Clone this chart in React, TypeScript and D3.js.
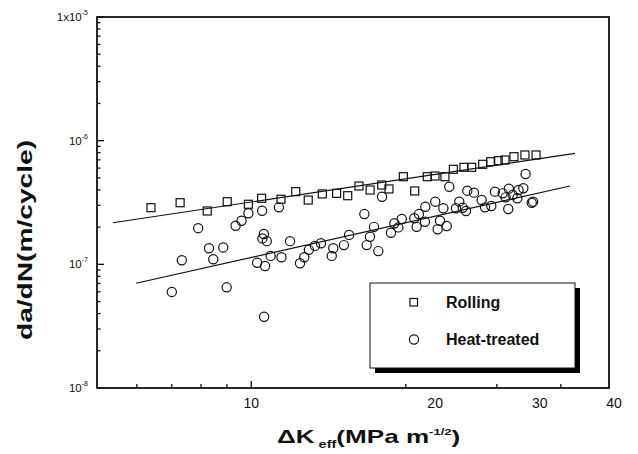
import React from 'react';
import * as d3 from 'd3';

// delta K_eff (MPa m^1/2) and da/dN (m/cycle)
const rollingK = [6.78, 7.59, 8.43, 9.11, 9.89, 10.41, 11.22, 11.88, 12.47, 13.17, 13.92, 14.53, 15.18, 15.85, 16.58, 17.05,
  18.03, 18.84, 19.78, 20.38, 21.18, 21.88, 22.8, 23.49, 24.52, 25.29, 26.04, 26.73, 27.68, 28.88, 30.15];
const rollingRate = [2.87e-7, 3.15e-7, 2.7e-7, 3.21e-7, 3.06e-7, 3.42e-7, 3.36e-7, 3.87e-7, 3.31e-7, 3.71e-7, 3.75e-7, 3.59e-7,
  4.3e-7, 3.99e-7, 4.38e-7, 4.07e-7, 5.11e-7, 3.92e-7, 5.11e-7, 5.18e-7, 5.11e-7, 5.87e-7, 6.09e-7, 6.09e-7, 6.44e-7, 6.76e-7,
  6.89e-7, 6.98e-7, 7.42e-7, 7.66e-7, 7.66e-7];

const heatK = [8.14, 9.41, 9.63, 9.89, 10.43, 10.5, 10.44, 10.62, 8.49, 8.97, 7.64, 8.63, 10.78, 10.23, 10.55, 7.35, 9.09, 10.51,
  11.13, 16.6, 15.5, 11.62, 11.24, 12.08, 12.28, 12.5, 12.8, 13.1, 13.74, 13.66, 14.32, 14.61, 15.64, 15.84, 16.09, 16.36, 17.18,
  17.41, 17.68, 17.92, 18.81, 18.98, 19.15, 19.63, 19.6, 20.4, 20.59, 21.54, 28.95, 21.05, 22.39, 22.11, 22.69, 22.98, 23.1, 23.7,
  24.42, 24.74, 25.35, 25.71, 26.49, 27.13, 26.79, 27.54, 28.04, 28.17, 28.7, 27.07, 29.65, 29.81, 20.78, 21.33];
const heatRate = [1.96e-7, 2.05e-7, 2.25e-7, 2.59e-7, 2.71e-7, 1.76e-7, 1.62e-7, 1.54e-7, 1.35e-7, 1.37e-7, 1.08e-7, 1.1e-7,
  1.17e-7, 1.03e-7, 9.7e-8, 5.98e-8, 6.52e-8, 3.77e-8, 2.89e-7, 3.52e-7, 2.55e-7, 1.54e-7, 1.14e-7, 1.02e-7, 1.14e-7, 1.31e-7,
  1.41e-7, 1.48e-7, 1.35e-7, 1.17e-7, 1.43e-7, 1.73e-7, 1.43e-7, 1.67e-7, 2.01e-7, 1.28e-7, 1.8e-7, 2.15e-7, 1.99e-7, 2.33e-7,
  2.36e-7, 2.01e-7, 2.55e-7, 2.92e-7, 2.21e-7, 3.21e-7, 1.92e-7, 4.24e-7, 5.38e-7, 2.84e-7, 3.21e-7, 2.84e-7, 2.87e-7, 2.7e-7,
  3.94e-7, 3.8e-7, 3.31e-7, 2.89e-7, 2.96e-7, 3.87e-7, 3.75e-7, 4.09e-7, 3.48e-7, 3.64e-7, 3.42e-7, 3.99e-7, 4.12e-7, 2.8e-7,
  3.15e-7, 3.21e-7, 2.25e-7, 2.04e-7];

// fitted lines (end points)
const rollingFitK = [5.85, 35.06];
const rollingFitRate = [2.17e-7, 7.9e-7];
const heatFitK = [6.4, 34.4];
const heatFitRate = [7.03e-8, 4.3e-7];

const xTickLabels = [10, 20, 30, 40];
const xMajorTicks = [10];
const xMinorTicks = [6.42, 7.35, 8.23, 9.1, 18.2, 25.9, 33.2];
const yExponents = [-5, -6, -7, -8];
const seriesNames = ['Rolling', 'Heat-treated'];

const W = 638, H = 454;
const left = 97, right = 609, top = 17, bottom = 388;
const font = '"Liberation Sans", Arial, sans-serif';

export default function App() {
  const x = d3.scaleLog().domain([5.5, 40]).range([left, right]);
  const y = d3.scaleLog().domain([1e-8, 1e-5]).range([bottom, top]);

  const line = d3.line<[number, number]>().x(d => x(d[0])).y(d => y(d[1]));
  const rollingFit = rollingFitK.map((k, i) => [k, rollingFitRate[i]] as [number, number]);
  const heatFit = heatFitK.map((k, i) => [k, heatFitRate[i]] as [number, number]);

  const yTicks = y.ticks();
  const isMajor = (v: number) => Math.abs(Math.log10(v) - Math.round(Math.log10(v))) < 1e-6;

  const lx = 370, ly = 283, lw = 205, lh = 85;

  return (
    <svg width={W} height={H} style={{ position: 'absolute', left: 0, top: 0, background: '#fff' }} fontFamily={font}>
      <rect x={0} y={0} width={W} height={H} fill="#fff" />

      {/* y ticks, inward */}
      <g stroke="#111" strokeWidth={1.3}>
        {yTicks.map((v, i) => (
          <line key={i} x1={left} x2={left + (isMajor(v) ? 7 : 3.5)} y1={y(v)} y2={y(v)} />
        ))}
        {xMajorTicks.map((v, i) => (
          <line key={'M' + i} x1={x(v)} x2={x(v)} y1={bottom} y2={bottom - 7} />
        ))}
        {xMinorTicks.map((v, i) => (
          <line key={'m' + i} x1={x(v)} x2={x(v)} y1={bottom} y2={bottom - 4} />
        ))}
      </g>

      {/* y tick labels */}
      <g fontSize={11.5} fill="#111" textAnchor="end">
        {yExponents.map(e => (
          <text key={e} x={left - 9} y={y(Math.pow(10, e)) + 4}>
            {e === -5 ? '1x10' : '10'}
            <tspan fontSize={7} dy={-6}>{String(e)}</tspan>
          </text>
        ))}
      </g>

      {/* x tick labels */}
      <g fontSize={14} fill="#111" textAnchor="middle">
        {xTickLabels.map(v => (
          <text key={v} x={x(v) + (v === 10 ? 0 : 5)} y={bottom + 20}>{v}</text>
        ))}
      </g>

      {/* fit lines */}
      <path d={line(rollingFit) || ''} fill="none" stroke="#111" strokeWidth={1.2} />
      <path d={line(heatFit) || ''} fill="none" stroke="#111" strokeWidth={1.2} />

      {/* data */}
      <g fill="none" stroke="#111" strokeWidth={1.2}>
        {rollingK.map((k, i) => (
          <rect key={'r' + i} x={x(k) - 4} y={y(rollingRate[i]) - 4} width={8} height={8} />
        ))}
        {heatK.map((k, i) => (
          <circle key={'h' + i} cx={x(k)} cy={y(heatRate[i])} r={4.6} />
        ))}
      </g>

      {/* legend */}
      <rect x={lx + 5} y={ly + 5} width={lw} height={lh} fill="#000" />
      <rect x={lx} y={ly} width={lw} height={lh} fill="#fff" stroke="#111" strokeWidth={1} />
      <rect x={lx + 40} y={ly + 15.5} width={7.5} height={7.5} fill="none" stroke="#111" strokeWidth={1.2} />
      <circle cx={lx + 44} cy={ly + 56.5} r={4.6} fill="none" stroke="#111" strokeWidth={1.2} />
      <g fontSize={16} fontWeight="bold" fill="#111">
        <text x={lx + 76} y={ly + 25}>{seriesNames[0]}</text>
        <text x={lx + 76} y={ly + 62}>{seriesNames[1]}</text>
      </g>

      {/* frame */}
      <rect x={left} y={top} width={right - left} height={bottom - top} fill="none" stroke="#111" strokeWidth={1.8} />

      {/* axis titles */}
      <text transform="translate(32,240) rotate(-90)" textAnchor="middle" fontSize={20} fontWeight="bold" fill="#111"
        textLength={200} lengthAdjust="spacingAndGlyphs">da/dN(m/cycle)</text>
      <g transform="translate(277,443) scale(1.45,1)">
        <text x={0} y={0} fontSize={18} fontWeight="bold" fill="#111">
          ΔK
          <tspan fontSize={10} dy={5}> eff</tspan>
          <tspan dy={-5}>(MPa m</tspan>
          <tspan fontSize={9} dy={-8}>-1/2</tspan>
          <tspan dy={8}>)</tspan>
        </text>
      </g>
    </svg>
  );
}
